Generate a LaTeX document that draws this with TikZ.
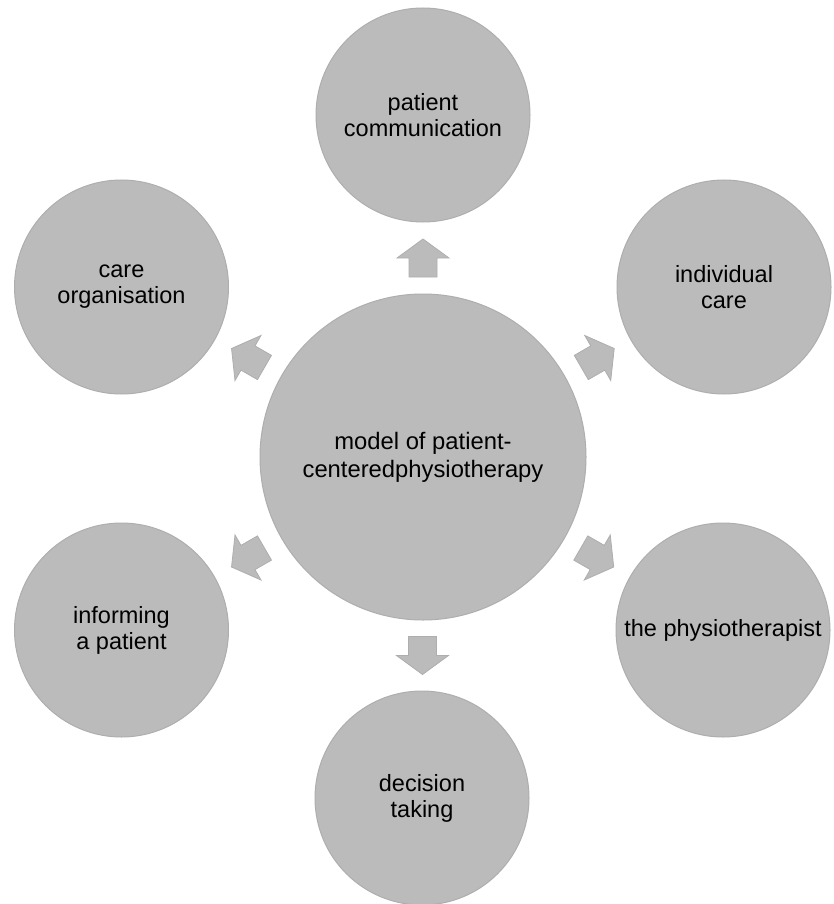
\documentclass[tikz,border=0pt]{standalone}
\usepackage{fontspec}
\setmainfont{Liberation Sans}
\usetikzlibrary{calc}
\definecolor{bubble}{RGB}{187,187,187}
\definecolor{bubbleedge}{RGB}{174,174,174}
\tikzset{
  hub/.style={circle, fill=bubble, draw=bubbleedge, line width=1pt,
    minimum size=326pt, inner sep=0pt, align=center,
    font=\fontsize{23.8}{28}\selectfont},
  satellite/.style={circle, fill=bubble, draw=bubbleedge, line width=1pt,
    minimum size=214pt, inner sep=0pt, align=center,
    font=\fontsize{23.5}{26}\selectfont},
  blockarrow/.style={fill=bubble, draw=bubbleedge, line width=0.8pt, line join=miter}
}
% block arrow placed halfway across the gap between two circles
\newcommand\spoke[4]{%
  \begin{scope}[shift={($(#1.#3)!0.5!(#2.#4)$)}, rotate=#3]
    \draw[blockarrow] (-19,-14) -- (0,-14) -- (0,-26) -- (19,0) -- (0,26) -- (0,14) -- (-19,14) -- cycle;
  \end{scope}}
\begin{document}
\begin{tikzpicture}[x=1pt, y=-1pt]
  \useasboundingbox (0,0) rectangle (834,904);
  \node[hub] (main) at (423,457) {model of patient-\\centeredphysiotherapy};
  \node[satellite] (comm) at (423,115) {patient\\communication};
  \node[satellite] (indiv) at (724,287) {individual\\care};
  \node[satellite] (physio) at (723,630) {the physiotherapist};
  \node[satellite] (decide) at (422,798) {decision\\taking};
  \node[satellite] (inform) at (121.5,630) {informing\\a patient};
  \node[satellite] (org) at (121.5,287) {care\\organisation};
  \spoke{main}{comm}{90}{270}
  \spoke{main}{indiv}{30}{210}
  \spoke{main}{physio}{-30}{150}
  \spoke{main}{decide}{-90}{90}
  \spoke{main}{inform}{-150}{30}
  \spoke{main}{org}{150}{-30}
\end{tikzpicture}
\end{document}
